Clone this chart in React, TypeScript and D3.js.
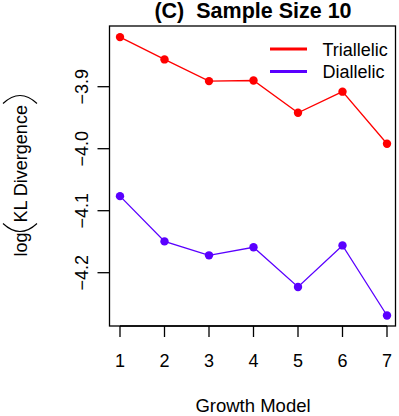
import React from "react";
import * as d3 from "d3";

const models = [1, 2, 3, 4, 5, 6, 7];
const triallelic = [-3.820, -3.856, -3.891, -3.890, -3.942, -3.908, -3.992];
const diallelic = [-4.0765, -4.1495, -4.172, -4.159, -4.223, -4.156, -4.269];
const yTicks = [-3.9, -4.0, -4.1, -4.2];
const seriesNames = ["Triallelic", "Diallelic"];
const seriesColors = ["#ff0000", "#5a00ff"];

const W = 399;
const H = 416;
const FONT = "'Liberation Sans', Arial, Helvetica, sans-serif";

export default function App() {
  const box = { left: 109.5, top: 26, right: 395.5, bottom: 326 };
  const x = d3.scaleLinear().domain([1, 7]).range([120, 387]);
  const y = d3.scaleLinear().domain([-4.2, -3.9]).range([272.7, 86.7]);
  const line = d3
    .line<number>()
    .x((_, i) => x(models[i]))
    .y((d) => y(d));
  const series = [triallelic, diallelic];

  // y label layout (rotated frame)
  const logW = 24, parW = 10, mainW = 118;
  const total = logW + parW * 2 + mainW;
  const u0 = -total / 2;
  const lp = u0 + logW; // left paren start
  const rp = lp + parW + mainW; // right paren start
  const half = 17;
  const depth = 8;

  return (
    <svg
      width={W}
      height={H}
      style={{ position: "absolute", left: 0, top: 0, background: "#fff" }}
      fontFamily={FONT}
    >
      <rect x={0} y={0} width={W} height={H} fill="#fff" />
      {/* title */}
      <text x={253} y={17.5} textAnchor="middle" fontSize={21.5} fontWeight="bold" fill="#000">
        {"(C)\u00a0\u00a0Sample Size 10"}
      </text>

      {/* series */}
      {series.map((s, k) => (
        <g key={k}>
          <path d={line(s) || ""} fill="none" stroke={seriesColors[k]} strokeWidth={1.3} />
          {s.map((v, i) => (
            <circle key={i} cx={x(models[i])} cy={y(v)} r={4.2} fill={seriesColors[k]} />
          ))}
        </g>
      ))}

      {/* box */}
      <rect
        x={box.left}
        y={box.top}
        width={box.right - box.left}
        height={box.bottom - box.top}
        fill="none"
        stroke="#000"
        strokeWidth={1.3}
      />

      {/* x axis */}
      <line x1={x(1)} x2={x(7)} y1={box.bottom} y2={box.bottom} stroke="#000" strokeWidth={1.3} />
      {models.map((m) => (
        <g key={m}>
          <line x1={x(m)} x2={x(m)} y1={box.bottom} y2={box.bottom + 11} stroke="#000" strokeWidth={1.3} />
          <text x={x(m)} y={367} textAnchor="middle" fontSize={18} fill="#000">
            {m}
          </text>
        </g>
      ))}
      <text x={253} y={411.5} textAnchor="middle" fontSize={18.5} fill="#000">
        Growth Model
      </text>

      {/* y axis */}
      {yTicks.map((t) => (
        <g key={t}>
          <line x1={box.left - 12} x2={box.left} y1={y(t)} y2={y(t)} stroke="#000" strokeWidth={1.3} />
          <text
            transform={`translate(88,${y(t)}) rotate(-90)`}
            textAnchor="middle"
            fontSize={18}
            fill="#000"
          >
            {d3.format(".1f")(t).replace("-", "\u2212")}
          </text>
        </g>
      ))}

      {/* y label */}
      <g transform="translate(20,175.5) rotate(-90)">
        <text x={u0} y={6.5} fontSize={18} fill="#000">
          log
        </text>
        <path
          d={`M${lp + parW - 1},${-half} Q${lp + parW - 1 - 2 * depth},0 ${lp + parW - 1},${half}`}
          fill="none"
          stroke="#000"
          strokeWidth={1.1}
        />
        <text x={lp + parW} y={6.5} fontSize={18} fill="#000">
          KL Divergence
        </text>
        <path
          d={`M${rp + 1},${-half} Q${rp + 1 + 2 * depth},0 ${rp + 1},${half}`}
          fill="none"
          stroke="#000"
          strokeWidth={1.1}
        />
      </g>

      {/* legend */}
      {seriesNames.map((n, k) => (
        <g key={n}>
          <line x1={270} x2={307} y1={49 + k * 22.5} y2={49 + k * 22.5} stroke={seriesColors[k]} strokeWidth={3.2} />
          <text x={322.5} y={55.5 + k * 22.5} fontSize={18} fill="#000">
            {n}
          </text>
        </g>
      ))}
    </svg>
  );
}
